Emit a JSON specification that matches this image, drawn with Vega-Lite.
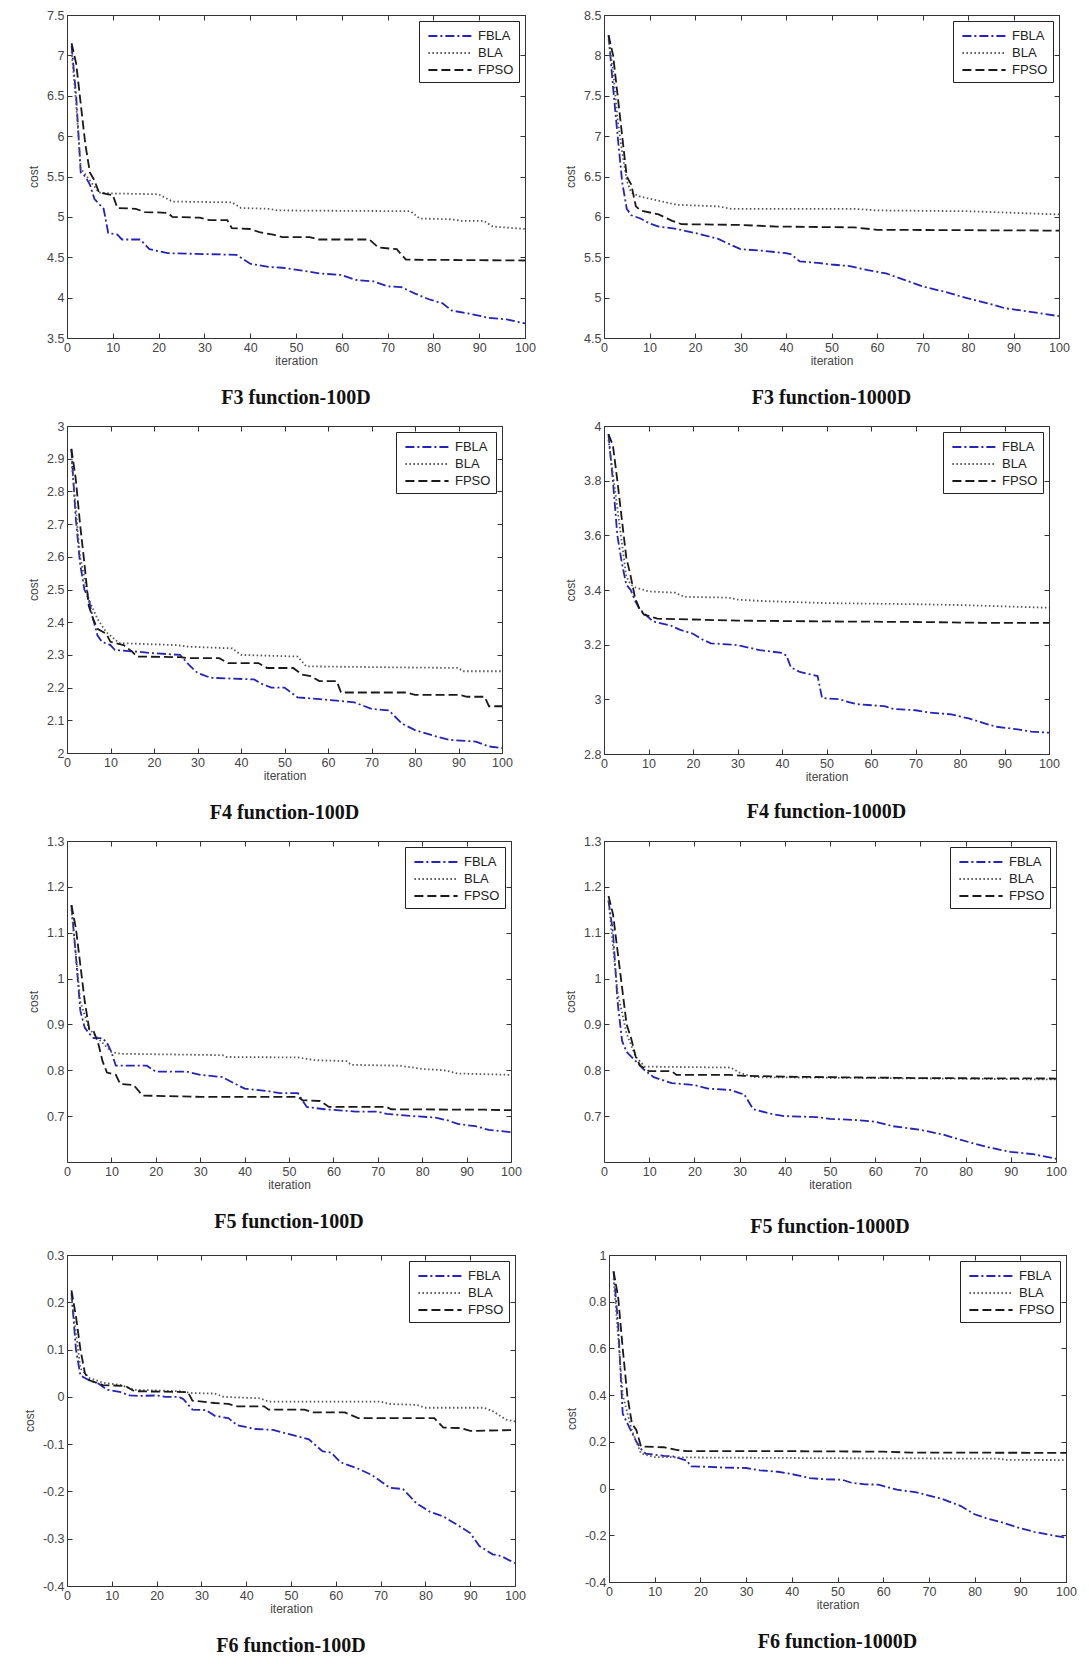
{
"$schema": "https://vega.github.io/schema/vega-lite/v6.json",
"background": "white",
"padding": {"left": 22, "top": 8, "right": 0, "bottom": 5},
"columns": 2,
"align": "none",
"spacing": {"row": 11, "column": 28},
"resolve": {"scale": {"color": "independent", "strokeDash": "independent"}},
"datasets": {
"f3_100": [
{"alg":"FBLA","iter":1,"cost":7.12},{"alg":"FBLA","iter":2,"cost":6.5},{"alg":"FBLA","iter":3,"cost":5.55},{"alg":"FBLA","iter":4,"cost":5.5},{"alg":"FBLA","iter":5,"cost":5.4},{"alg":"FBLA","iter":6,"cost":5.22},{"alg":"FBLA","iter":8,"cost":5.1},{"alg":"FBLA","iter":9,"cost":4.8},{"alg":"FBLA","iter":11,"cost":4.78},{"alg":"FBLA","iter":12,"cost":4.72},{"alg":"FBLA","iter":16,"cost":4.72},{"alg":"FBLA","iter":18,"cost":4.6},{"alg":"FBLA","iter":22,"cost":4.55},{"alg":"FBLA","iter":37,"cost":4.53},{"alg":"FBLA","iter":40,"cost":4.42},{"alg":"FBLA","iter":44,"cost":4.38},{"alg":"FBLA","iter":47,"cost":4.37},{"alg":"FBLA","iter":52,"cost":4.33},{"alg":"FBLA","iter":55,"cost":4.3},{"alg":"FBLA","iter":60,"cost":4.28},{"alg":"FBLA","iter":63,"cost":4.22},{"alg":"FBLA","iter":67,"cost":4.2},{"alg":"FBLA","iter":70,"cost":4.14},{"alg":"FBLA","iter":73,"cost":4.13},{"alg":"FBLA","iter":76,"cost":4.05},{"alg":"FBLA","iter":79,"cost":3.98},{"alg":"FBLA","iter":82,"cost":3.93},{"alg":"FBLA","iter":84,"cost":3.84},{"alg":"FBLA","iter":88,"cost":3.8},{"alg":"FBLA","iter":92,"cost":3.75},{"alg":"FBLA","iter":96,"cost":3.73},{"alg":"FBLA","iter":100,"cost":3.68},
{"alg":"BLA","iter":1,"cost":7.05},{"alg":"BLA","iter":2,"cost":6.4},{"alg":"BLA","iter":3,"cost":5.6},{"alg":"BLA","iter":5,"cost":5.45},{"alg":"BLA","iter":7,"cost":5.3},{"alg":"BLA","iter":10,"cost":5.29},{"alg":"BLA","iter":20,"cost":5.28},{"alg":"BLA","iter":23,"cost":5.19},{"alg":"BLA","iter":36,"cost":5.18},{"alg":"BLA","iter":38,"cost":5.11},{"alg":"BLA","iter":44,"cost":5.1},{"alg":"BLA","iter":46,"cost":5.08},{"alg":"BLA","iter":75,"cost":5.07},{"alg":"BLA","iter":77,"cost":4.98},{"alg":"BLA","iter":84,"cost":4.97},{"alg":"BLA","iter":86,"cost":4.95},{"alg":"BLA","iter":91,"cost":4.95},{"alg":"BLA","iter":93,"cost":4.88},{"alg":"BLA","iter":100,"cost":4.85},
{"alg":"FPSO","iter":1,"cost":7.15},{"alg":"FPSO","iter":2,"cost":6.9},{"alg":"FPSO","iter":3,"cost":6.4},{"alg":"FPSO","iter":4,"cost":5.9},{"alg":"FPSO","iter":5,"cost":5.55},{"alg":"FPSO","iter":6,"cost":5.45},{"alg":"FPSO","iter":7,"cost":5.3},{"alg":"FPSO","iter":10,"cost":5.27},{"alg":"FPSO","iter":11,"cost":5.11},{"alg":"FPSO","iter":15,"cost":5.1},{"alg":"FPSO","iter":17,"cost":5.06},{"alg":"FPSO","iter":22,"cost":5.05},{"alg":"FPSO","iter":23,"cost":5.0},{"alg":"FPSO","iter":29,"cost":4.99},{"alg":"FPSO","iter":31,"cost":4.96},{"alg":"FPSO","iter":35,"cost":4.96},{"alg":"FPSO","iter":36,"cost":4.86},{"alg":"FPSO","iter":40,"cost":4.85},{"alg":"FPSO","iter":42,"cost":4.81},{"alg":"FPSO","iter":45,"cost":4.78},{"alg":"FPSO","iter":47,"cost":4.75},{"alg":"FPSO","iter":53,"cost":4.75},{"alg":"FPSO","iter":55,"cost":4.72},{"alg":"FPSO","iter":66,"cost":4.72},{"alg":"FPSO","iter":68,"cost":4.62},{"alg":"FPSO","iter":72,"cost":4.6},{"alg":"FPSO","iter":74,"cost":4.47},{"alg":"FPSO","iter":100,"cost":4.46}
],
"f3_1000": [
{"alg":"FBLA","iter":1,"cost":8.25},{"alg":"FBLA","iter":2,"cost":7.6},{"alg":"FBLA","iter":3,"cost":7.0},{"alg":"FBLA","iter":4,"cost":6.43},{"alg":"FBLA","iter":5,"cost":6.1},{"alg":"FBLA","iter":6,"cost":6.02},{"alg":"FBLA","iter":8,"cost":5.98},{"alg":"FBLA","iter":10,"cost":5.92},{"alg":"FBLA","iter":12,"cost":5.88},{"alg":"FBLA","iter":16,"cost":5.85},{"alg":"FBLA","iter":20,"cost":5.8},{"alg":"FBLA","iter":25,"cost":5.73},{"alg":"FBLA","iter":28,"cost":5.65},{"alg":"FBLA","iter":30,"cost":5.6},{"alg":"FBLA","iter":35,"cost":5.58},{"alg":"FBLA","iter":40,"cost":5.55},{"alg":"FBLA","iter":41,"cost":5.54},{"alg":"FBLA","iter":43,"cost":5.45},{"alg":"FBLA","iter":47,"cost":5.43},{"alg":"FBLA","iter":50,"cost":5.41},{"alg":"FBLA","iter":54,"cost":5.39},{"alg":"FBLA","iter":58,"cost":5.34},{"alg":"FBLA","iter":62,"cost":5.3},{"alg":"FBLA","iter":66,"cost":5.22},{"alg":"FBLA","iter":70,"cost":5.14},{"alg":"FBLA","iter":75,"cost":5.07},{"alg":"FBLA","iter":80,"cost":4.99},{"alg":"FBLA","iter":85,"cost":4.92},{"alg":"FBLA","iter":88,"cost":4.87},{"alg":"FBLA","iter":93,"cost":4.83},{"alg":"FBLA","iter":100,"cost":4.77},
{"alg":"BLA","iter":1,"cost":8.2},{"alg":"BLA","iter":2,"cost":7.8},{"alg":"BLA","iter":3,"cost":7.2},{"alg":"BLA","iter":4,"cost":6.8},{"alg":"BLA","iter":5,"cost":6.45},{"alg":"BLA","iter":6,"cost":6.3},{"alg":"BLA","iter":8,"cost":6.25},{"alg":"BLA","iter":12,"cost":6.2},{"alg":"BLA","iter":16,"cost":6.15},{"alg":"BLA","iter":25,"cost":6.13},{"alg":"BLA","iter":28,"cost":6.1},{"alg":"BLA","iter":55,"cost":6.1},{"alg":"BLA","iter":60,"cost":6.08},{"alg":"BLA","iter":80,"cost":6.07},{"alg":"BLA","iter":90,"cost":6.05},{"alg":"BLA","iter":100,"cost":6.03},
{"alg":"FPSO","iter":1,"cost":8.25},{"alg":"FPSO","iter":2,"cost":8.0},{"alg":"FPSO","iter":3,"cost":7.5},{"alg":"FPSO","iter":4,"cost":7.0},{"alg":"FPSO","iter":5,"cost":6.5},{"alg":"FPSO","iter":6,"cost":6.4},{"alg":"FPSO","iter":7,"cost":6.13},{"alg":"FPSO","iter":8,"cost":6.08},{"alg":"FPSO","iter":12,"cost":6.03},{"alg":"FPSO","iter":15,"cost":5.95},{"alg":"FPSO","iter":17,"cost":5.91},{"alg":"FPSO","iter":30,"cost":5.9},{"alg":"FPSO","iter":38,"cost":5.88},{"alg":"FPSO","iter":55,"cost":5.87},{"alg":"FPSO","iter":60,"cost":5.84},{"alg":"FPSO","iter":100,"cost":5.83}
],
"f4_100": [
{"alg":"FBLA","iter":1,"cost":2.93},{"alg":"FBLA","iter":2,"cost":2.72},{"alg":"FBLA","iter":3,"cost":2.58},{"alg":"FBLA","iter":4,"cost":2.5},{"alg":"FBLA","iter":5,"cost":2.47},{"alg":"FBLA","iter":6,"cost":2.41},{"alg":"FBLA","iter":7,"cost":2.36},{"alg":"FBLA","iter":8,"cost":2.34},{"alg":"FBLA","iter":10,"cost":2.33},{"alg":"FBLA","iter":11,"cost":2.315},{"alg":"FBLA","iter":16,"cost":2.31},{"alg":"FBLA","iter":20,"cost":2.305},{"alg":"FBLA","iter":26,"cost":2.3},{"alg":"FBLA","iter":28,"cost":2.27},{"alg":"FBLA","iter":30,"cost":2.245},{"alg":"FBLA","iter":33,"cost":2.23},{"alg":"FBLA","iter":43,"cost":2.225},{"alg":"FBLA","iter":45,"cost":2.21},{"alg":"FBLA","iter":47,"cost":2.2},{"alg":"FBLA","iter":50,"cost":2.2},{"alg":"FBLA","iter":53,"cost":2.17},{"alg":"FBLA","iter":58,"cost":2.165},{"alg":"FBLA","iter":62,"cost":2.16},{"alg":"FBLA","iter":66,"cost":2.155},{"alg":"FBLA","iter":70,"cost":2.135},{"alg":"FBLA","iter":74,"cost":2.13},{"alg":"FBLA","iter":77,"cost":2.09},{"alg":"FBLA","iter":80,"cost":2.07},{"alg":"FBLA","iter":85,"cost":2.05},{"alg":"FBLA","iter":88,"cost":2.04},{"alg":"FBLA","iter":94,"cost":2.035},{"alg":"FBLA","iter":97,"cost":2.02},{"alg":"FBLA","iter":100,"cost":2.015},
{"alg":"BLA","iter":1,"cost":2.9},{"alg":"BLA","iter":3,"cost":2.6},{"alg":"BLA","iter":5,"cost":2.47},{"alg":"BLA","iter":7,"cost":2.41},{"alg":"BLA","iter":9,"cost":2.37},{"alg":"BLA","iter":12,"cost":2.336},{"alg":"BLA","iter":25,"cost":2.33},{"alg":"BLA","iter":28,"cost":2.325},{"alg":"BLA","iter":38,"cost":2.32},{"alg":"BLA","iter":40,"cost":2.3},{"alg":"BLA","iter":53,"cost":2.295},{"alg":"BLA","iter":55,"cost":2.265},{"alg":"BLA","iter":75,"cost":2.262},{"alg":"BLA","iter":90,"cost":2.26},{"alg":"BLA","iter":91,"cost":2.25},{"alg":"BLA","iter":100,"cost":2.25},
{"alg":"FPSO","iter":1,"cost":2.93},{"alg":"FPSO","iter":2,"cost":2.84},{"alg":"FPSO","iter":3,"cost":2.7},{"alg":"FPSO","iter":4,"cost":2.58},{"alg":"FPSO","iter":5,"cost":2.45},{"alg":"FPSO","iter":6,"cost":2.41},{"alg":"FPSO","iter":7,"cost":2.38},{"alg":"FPSO","iter":9,"cost":2.365},{"alg":"FPSO","iter":10,"cost":2.34},{"alg":"FPSO","iter":13,"cost":2.33},{"alg":"FPSO","iter":15,"cost":2.31},{"alg":"FPSO","iter":16,"cost":2.295},{"alg":"FPSO","iter":26,"cost":2.293},{"alg":"FPSO","iter":28,"cost":2.29},{"alg":"FPSO","iter":35,"cost":2.29},{"alg":"FPSO","iter":37,"cost":2.275},{"alg":"FPSO","iter":44,"cost":2.275},{"alg":"FPSO","iter":46,"cost":2.26},{"alg":"FPSO","iter":52,"cost":2.26},{"alg":"FPSO","iter":54,"cost":2.24},{"alg":"FPSO","iter":56,"cost":2.235},{"alg":"FPSO","iter":58,"cost":2.22},{"alg":"FPSO","iter":62,"cost":2.22},{"alg":"FPSO","iter":63,"cost":2.185},{"alg":"FPSO","iter":78,"cost":2.185},{"alg":"FPSO","iter":80,"cost":2.178},{"alg":"FPSO","iter":90,"cost":2.178},{"alg":"FPSO","iter":92,"cost":2.172},{"alg":"FPSO","iter":96,"cost":2.172},{"alg":"FPSO","iter":97,"cost":2.143},{"alg":"FPSO","iter":100,"cost":2.143}
],
"f4_1000": [
{"alg":"FBLA","iter":1,"cost":3.97},{"alg":"FBLA","iter":2,"cost":3.8},{"alg":"FBLA","iter":3,"cost":3.6},{"alg":"FBLA","iter":4,"cost":3.5},{"alg":"FBLA","iter":5,"cost":3.42},{"alg":"FBLA","iter":6,"cost":3.4},{"alg":"FBLA","iter":7,"cost":3.36},{"alg":"FBLA","iter":8,"cost":3.33},{"alg":"FBLA","iter":10,"cost":3.3},{"alg":"FBLA","iter":11,"cost":3.285},{"alg":"FBLA","iter":15,"cost":3.27},{"alg":"FBLA","iter":17,"cost":3.255},{"alg":"FBLA","iter":20,"cost":3.24},{"alg":"FBLA","iter":22,"cost":3.22},{"alg":"FBLA","iter":24,"cost":3.205},{"alg":"FBLA","iter":29,"cost":3.2},{"alg":"FBLA","iter":31,"cost":3.195},{"alg":"FBLA","iter":35,"cost":3.18},{"alg":"FBLA","iter":40,"cost":3.17},{"alg":"FBLA","iter":41,"cost":3.16},{"alg":"FBLA","iter":42,"cost":3.117},{"alg":"FBLA","iter":44,"cost":3.1},{"alg":"FBLA","iter":48,"cost":3.085},{"alg":"FBLA","iter":49,"cost":3.005},{"alg":"FBLA","iter":53,"cost":3.0},{"alg":"FBLA","iter":55,"cost":2.99},{"alg":"FBLA","iter":57,"cost":2.982},{"alg":"FBLA","iter":63,"cost":2.975},{"alg":"FBLA","iter":65,"cost":2.965},{"alg":"FBLA","iter":70,"cost":2.96},{"alg":"FBLA","iter":73,"cost":2.952},{"alg":"FBLA","iter":78,"cost":2.945},{"alg":"FBLA","iter":82,"cost":2.93},{"alg":"FBLA","iter":85,"cost":2.915},{"alg":"FBLA","iter":88,"cost":2.9},{"alg":"FBLA","iter":93,"cost":2.89},{"alg":"FBLA","iter":96,"cost":2.882},{"alg":"FBLA","iter":100,"cost":2.878},
{"alg":"BLA","iter":1,"cost":3.95},{"alg":"BLA","iter":3,"cost":3.7},{"alg":"BLA","iter":5,"cost":3.45},{"alg":"BLA","iter":6,"cost":3.42},{"alg":"BLA","iter":7,"cost":3.41},{"alg":"BLA","iter":10,"cost":3.395},{"alg":"BLA","iter":16,"cost":3.39},{"alg":"BLA","iter":18,"cost":3.375},{"alg":"BLA","iter":28,"cost":3.372},{"alg":"BLA","iter":30,"cost":3.365},{"alg":"BLA","iter":35,"cost":3.36},{"alg":"BLA","iter":50,"cost":3.352},{"alg":"BLA","iter":70,"cost":3.348},{"alg":"BLA","iter":80,"cost":3.345},{"alg":"BLA","iter":90,"cost":3.34},{"alg":"BLA","iter":100,"cost":3.335},
{"alg":"FPSO","iter":1,"cost":3.97},{"alg":"FPSO","iter":2,"cost":3.93},{"alg":"FPSO","iter":3,"cost":3.8},{"alg":"FPSO","iter":4,"cost":3.66},{"alg":"FPSO","iter":5,"cost":3.52},{"alg":"FPSO","iter":6,"cost":3.45},{"alg":"FPSO","iter":7,"cost":3.37},{"alg":"FPSO","iter":8,"cost":3.33},{"alg":"FPSO","iter":9,"cost":3.31},{"alg":"FPSO","iter":12,"cost":3.295},{"alg":"FPSO","iter":20,"cost":3.292},{"alg":"FPSO","iter":30,"cost":3.288},{"alg":"FPSO","iter":50,"cost":3.285},{"alg":"FPSO","iter":70,"cost":3.283},{"alg":"FPSO","iter":85,"cost":3.28},{"alg":"FPSO","iter":100,"cost":3.28}
],
"f5_100": [
{"alg":"FBLA","iter":1,"cost":1.16},{"alg":"FBLA","iter":2,"cost":1.05},{"alg":"FBLA","iter":3,"cost":0.93},{"alg":"FBLA","iter":4,"cost":0.893},{"alg":"FBLA","iter":5,"cost":0.88},{"alg":"FBLA","iter":6,"cost":0.87},{"alg":"FBLA","iter":8,"cost":0.87},{"alg":"FBLA","iter":9,"cost":0.86},{"alg":"FBLA","iter":10,"cost":0.84},{"alg":"FBLA","iter":11,"cost":0.81},{"alg":"FBLA","iter":18,"cost":0.81},{"alg":"FBLA","iter":20,"cost":0.797},{"alg":"FBLA","iter":27,"cost":0.797},{"alg":"FBLA","iter":30,"cost":0.79},{"alg":"FBLA","iter":35,"cost":0.785},{"alg":"FBLA","iter":38,"cost":0.77},{"alg":"FBLA","iter":40,"cost":0.76},{"alg":"FBLA","iter":45,"cost":0.755},{"alg":"FBLA","iter":48,"cost":0.75},{"alg":"FBLA","iter":52,"cost":0.75},{"alg":"FBLA","iter":54,"cost":0.72},{"alg":"FBLA","iter":58,"cost":0.715},{"alg":"FBLA","iter":65,"cost":0.71},{"alg":"FBLA","iter":70,"cost":0.71},{"alg":"FBLA","iter":72,"cost":0.705},{"alg":"FBLA","iter":78,"cost":0.7},{"alg":"FBLA","iter":83,"cost":0.697},{"alg":"FBLA","iter":86,"cost":0.69},{"alg":"FBLA","iter":88,"cost":0.683},{"alg":"FBLA","iter":92,"cost":0.678},{"alg":"FBLA","iter":95,"cost":0.67},{"alg":"FBLA","iter":100,"cost":0.665},
{"alg":"BLA","iter":1,"cost":1.15},{"alg":"BLA","iter":3,"cost":0.95},{"alg":"BLA","iter":5,"cost":0.89},{"alg":"BLA","iter":7,"cost":0.87},{"alg":"BLA","iter":9,"cost":0.85},{"alg":"BLA","iter":10,"cost":0.84},{"alg":"BLA","iter":12,"cost":0.836},{"alg":"BLA","iter":35,"cost":0.833},{"alg":"BLA","iter":36,"cost":0.829},{"alg":"BLA","iter":52,"cost":0.828},{"alg":"BLA","iter":54,"cost":0.825},{"alg":"BLA","iter":56,"cost":0.822},{"alg":"BLA","iter":63,"cost":0.82},{"alg":"BLA","iter":64,"cost":0.812},{"alg":"BLA","iter":75,"cost":0.81},{"alg":"BLA","iter":80,"cost":0.803},{"alg":"BLA","iter":85,"cost":0.8},{"alg":"BLA","iter":88,"cost":0.793},{"alg":"BLA","iter":100,"cost":0.79},
{"alg":"FPSO","iter":1,"cost":1.16},{"alg":"FPSO","iter":2,"cost":1.11},{"alg":"FPSO","iter":3,"cost":1.03},{"alg":"FPSO","iter":4,"cost":0.95},{"alg":"FPSO","iter":5,"cost":0.89},{"alg":"FPSO","iter":6,"cost":0.885},{"alg":"FPSO","iter":7,"cost":0.86},{"alg":"FPSO","iter":8,"cost":0.82},{"alg":"FPSO","iter":9,"cost":0.795},{"alg":"FPSO","iter":11,"cost":0.79},{"alg":"FPSO","iter":12,"cost":0.77},{"alg":"FPSO","iter":15,"cost":0.768},{"alg":"FPSO","iter":17,"cost":0.745},{"alg":"FPSO","iter":26,"cost":0.743},{"alg":"FPSO","iter":30,"cost":0.742},{"alg":"FPSO","iter":52,"cost":0.742},{"alg":"FPSO","iter":53,"cost":0.735},{"alg":"FPSO","iter":57,"cost":0.733},{"alg":"FPSO","iter":59,"cost":0.72},{"alg":"FPSO","iter":72,"cost":0.72},{"alg":"FPSO","iter":73,"cost":0.715},{"alg":"FPSO","iter":94,"cost":0.714},{"alg":"FPSO","iter":100,"cost":0.713}
],
"f5_1000": [
{"alg":"FBLA","iter":1,"cost":1.17},{"alg":"FBLA","iter":2,"cost":1.1},{"alg":"FBLA","iter":3,"cost":0.95},{"alg":"FBLA","iter":4,"cost":0.864},{"alg":"FBLA","iter":5,"cost":0.84},{"alg":"FBLA","iter":7,"cost":0.82},{"alg":"FBLA","iter":9,"cost":0.8},{"alg":"FBLA","iter":11,"cost":0.785},{"alg":"FBLA","iter":15,"cost":0.772},{"alg":"FBLA","iter":20,"cost":0.768},{"alg":"FBLA","iter":23,"cost":0.76},{"alg":"FBLA","iter":28,"cost":0.757},{"alg":"FBLA","iter":30,"cost":0.75},{"alg":"FBLA","iter":31,"cost":0.748},{"alg":"FBLA","iter":33,"cost":0.715},{"alg":"FBLA","iter":37,"cost":0.705},{"alg":"FBLA","iter":40,"cost":0.7},{"alg":"FBLA","iter":47,"cost":0.698},{"alg":"FBLA","iter":50,"cost":0.694},{"alg":"FBLA","iter":55,"cost":0.692},{"alg":"FBLA","iter":60,"cost":0.688},{"alg":"FBLA","iter":64,"cost":0.678},{"alg":"FBLA","iter":70,"cost":0.67},{"alg":"FBLA","iter":75,"cost":0.66},{"alg":"FBLA","iter":79,"cost":0.648},{"alg":"FBLA","iter":82,"cost":0.64},{"alg":"FBLA","iter":86,"cost":0.63},{"alg":"FBLA","iter":90,"cost":0.622},{"alg":"FBLA","iter":95,"cost":0.617},{"alg":"FBLA","iter":100,"cost":0.607},
{"alg":"BLA","iter":1,"cost":1.17},{"alg":"BLA","iter":3,"cost":0.97},{"alg":"BLA","iter":5,"cost":0.88},{"alg":"BLA","iter":7,"cost":0.83},{"alg":"BLA","iter":9,"cost":0.808},{"alg":"BLA","iter":28,"cost":0.806},{"alg":"BLA","iter":30,"cost":0.795},{"alg":"BLA","iter":33,"cost":0.785},{"alg":"BLA","iter":100,"cost":0.78},
{"alg":"FPSO","iter":1,"cost":1.18},{"alg":"FPSO","iter":2,"cost":1.14},{"alg":"FPSO","iter":3,"cost":1.06},{"alg":"FPSO","iter":4,"cost":0.98},{"alg":"FPSO","iter":5,"cost":0.9},{"alg":"FPSO","iter":6,"cost":0.87},{"alg":"FPSO","iter":7,"cost":0.83},{"alg":"FPSO","iter":8,"cost":0.81},{"alg":"FPSO","iter":10,"cost":0.798},{"alg":"FPSO","iter":15,"cost":0.798},{"alg":"FPSO","iter":16,"cost":0.79},{"alg":"FPSO","iter":28,"cost":0.79},{"alg":"FPSO","iter":31,"cost":0.788},{"alg":"FPSO","iter":40,"cost":0.786},{"alg":"FPSO","iter":60,"cost":0.784},{"alg":"FPSO","iter":70,"cost":0.783},{"alg":"FPSO","iter":100,"cost":0.782}
],
"f6_100": [
{"alg":"FBLA","iter":1,"cost":0.22},{"alg":"FBLA","iter":2,"cost":0.1},{"alg":"FBLA","iter":3,"cost":0.045},{"alg":"FBLA","iter":4,"cost":0.04},{"alg":"FBLA","iter":5,"cost":0.035},{"alg":"FBLA","iter":7,"cost":0.028},{"alg":"FBLA","iter":9,"cost":0.015},{"alg":"FBLA","iter":12,"cost":0.01},{"alg":"FBLA","iter":14,"cost":0.003},{"alg":"FBLA","iter":16,"cost":0.002},{"alg":"FBLA","iter":20,"cost":0.003},{"alg":"FBLA","iter":22,"cost":0.0},{"alg":"FBLA","iter":25,"cost":0.0},{"alg":"FBLA","iter":26,"cost":-0.005},{"alg":"FBLA","iter":28,"cost":-0.027},{"alg":"FBLA","iter":31,"cost":-0.028},{"alg":"FBLA","iter":33,"cost":-0.04},{"alg":"FBLA","iter":36,"cost":-0.045},{"alg":"FBLA","iter":38,"cost":-0.06},{"alg":"FBLA","iter":42,"cost":-0.068},{"alg":"FBLA","iter":46,"cost":-0.07},{"alg":"FBLA","iter":50,"cost":-0.08},{"alg":"FBLA","iter":54,"cost":-0.09},{"alg":"FBLA","iter":57,"cost":-0.115},{"alg":"FBLA","iter":59,"cost":-0.118},{"alg":"FBLA","iter":61,"cost":-0.138},{"alg":"FBLA","iter":65,"cost":-0.152},{"alg":"FBLA","iter":68,"cost":-0.165},{"alg":"FBLA","iter":72,"cost":-0.192},{"alg":"FBLA","iter":75,"cost":-0.195},{"alg":"FBLA","iter":78,"cost":-0.225},{"alg":"FBLA","iter":81,"cost":-0.243},{"alg":"FBLA","iter":84,"cost":-0.253},{"alg":"FBLA","iter":87,"cost":-0.27},{"alg":"FBLA","iter":90,"cost":-0.288},{"alg":"FBLA","iter":92,"cost":-0.315},{"alg":"FBLA","iter":95,"cost":-0.333},{"alg":"FBLA","iter":97,"cost":-0.337},{"alg":"FBLA","iter":100,"cost":-0.352},
{"alg":"BLA","iter":1,"cost":0.21},{"alg":"BLA","iter":3,"cost":0.06},{"alg":"BLA","iter":5,"cost":0.04},{"alg":"BLA","iter":8,"cost":0.03},{"alg":"BLA","iter":12,"cost":0.025},{"alg":"BLA","iter":15,"cost":0.015},{"alg":"BLA","iter":25,"cost":0.012},{"alg":"BLA","iter":28,"cost":0.008},{"alg":"BLA","iter":33,"cost":0.007},{"alg":"BLA","iter":35,"cost":0.0},{"alg":"BLA","iter":43,"cost":-0.003},{"alg":"BLA","iter":45,"cost":-0.01},{"alg":"BLA","iter":70,"cost":-0.01},{"alg":"BLA","iter":72,"cost":-0.015},{"alg":"BLA","iter":78,"cost":-0.017},{"alg":"BLA","iter":80,"cost":-0.023},{"alg":"BLA","iter":93,"cost":-0.023},{"alg":"BLA","iter":95,"cost":-0.03},{"alg":"BLA","iter":98,"cost":-0.048},{"alg":"BLA","iter":100,"cost":-0.052},
{"alg":"FPSO","iter":1,"cost":0.225},{"alg":"FPSO","iter":2,"cost":0.17},{"alg":"FPSO","iter":3,"cost":0.1},{"alg":"FPSO","iter":4,"cost":0.05},{"alg":"FPSO","iter":5,"cost":0.035},{"alg":"FPSO","iter":8,"cost":0.025},{"alg":"FPSO","iter":13,"cost":0.023},{"alg":"FPSO","iter":15,"cost":0.012},{"alg":"FPSO","iter":27,"cost":0.01},{"alg":"FPSO","iter":28,"cost":-0.008},{"alg":"FPSO","iter":33,"cost":-0.013},{"alg":"FPSO","iter":36,"cost":-0.015},{"alg":"FPSO","iter":38,"cost":-0.02},{"alg":"FPSO","iter":44,"cost":-0.02},{"alg":"FPSO","iter":45,"cost":-0.027},{"alg":"FPSO","iter":53,"cost":-0.027},{"alg":"FPSO","iter":55,"cost":-0.033},{"alg":"FPSO","iter":62,"cost":-0.033},{"alg":"FPSO","iter":65,"cost":-0.045},{"alg":"FPSO","iter":82,"cost":-0.045},{"alg":"FPSO","iter":84,"cost":-0.065},{"alg":"FPSO","iter":88,"cost":-0.066},{"alg":"FPSO","iter":90,"cost":-0.072},{"alg":"FPSO","iter":100,"cost":-0.07}
],
"f6_1000": [
{"alg":"FBLA","iter":1,"cost":0.93},{"alg":"FBLA","iter":2,"cost":0.7},{"alg":"FBLA","iter":3,"cost":0.32},{"alg":"FBLA","iter":4,"cost":0.28},{"alg":"FBLA","iter":5,"cost":0.24},{"alg":"FBLA","iter":6,"cost":0.2},{"alg":"FBLA","iter":7,"cost":0.17},{"alg":"FBLA","iter":8,"cost":0.15},{"alg":"FBLA","iter":10,"cost":0.145},{"alg":"FBLA","iter":12,"cost":0.14},{"alg":"FBLA","iter":14,"cost":0.138},{"alg":"FBLA","iter":17,"cost":0.12},{"alg":"FBLA","iter":18,"cost":0.095},{"alg":"FBLA","iter":22,"cost":0.093},{"alg":"FBLA","iter":25,"cost":0.09},{"alg":"FBLA","iter":30,"cost":0.088},{"alg":"FBLA","iter":33,"cost":0.078},{"alg":"FBLA","iter":37,"cost":0.072},{"alg":"FBLA","iter":40,"cost":0.062},{"alg":"FBLA","iter":44,"cost":0.045},{"alg":"FBLA","iter":47,"cost":0.04},{"alg":"FBLA","iter":51,"cost":0.038},{"alg":"FBLA","iter":53,"cost":0.025},{"alg":"FBLA","iter":56,"cost":0.018},{"alg":"FBLA","iter":59,"cost":0.017},{"alg":"FBLA","iter":61,"cost":0.005},{"alg":"FBLA","iter":63,"cost":-0.005},{"alg":"FBLA","iter":67,"cost":-0.015},{"alg":"FBLA","iter":70,"cost":-0.03},{"alg":"FBLA","iter":73,"cost":-0.045},{"alg":"FBLA","iter":77,"cost":-0.075},{"alg":"FBLA","iter":80,"cost":-0.11},{"alg":"FBLA","iter":83,"cost":-0.13},{"alg":"FBLA","iter":86,"cost":-0.145},{"alg":"FBLA","iter":90,"cost":-0.17},{"alg":"FBLA","iter":93,"cost":-0.185},{"alg":"FBLA","iter":97,"cost":-0.2},{"alg":"FBLA","iter":100,"cost":-0.21},
{"alg":"BLA","iter":1,"cost":0.9},{"alg":"BLA","iter":3,"cost":0.4},{"alg":"BLA","iter":5,"cost":0.25},{"alg":"BLA","iter":7,"cost":0.15},{"alg":"BLA","iter":10,"cost":0.135},{"alg":"BLA","iter":20,"cost":0.133},{"alg":"BLA","iter":50,"cost":0.13},{"alg":"BLA","iter":85,"cost":0.128},{"alg":"BLA","iter":87,"cost":0.123},{"alg":"BLA","iter":100,"cost":0.122},
{"alg":"FPSO","iter":1,"cost":0.93},{"alg":"FPSO","iter":2,"cost":0.82},{"alg":"FPSO","iter":3,"cost":0.6},{"alg":"FPSO","iter":4,"cost":0.4},{"alg":"FPSO","iter":5,"cost":0.28},{"alg":"FPSO","iter":6,"cost":0.25},{"alg":"FPSO","iter":7,"cost":0.18},{"alg":"FPSO","iter":12,"cost":0.177},{"alg":"FPSO","iter":15,"cost":0.165},{"alg":"FPSO","iter":17,"cost":0.16},{"alg":"FPSO","iter":40,"cost":0.16},{"alg":"FPSO","iter":60,"cost":0.158},{"alg":"FPSO","iter":66,"cost":0.154},{"alg":"FPSO","iter":100,"cost":0.153}
]
},
"concat": [
{"width": 458, "height": 323, "data": {"name": "f3_100"}, "title": {"text": "F3 function-100D", "offset": 21},
 "resolve": {"axis": {"x": "independent", "y": "independent"}},
 "layer": [
  {"mark": {"type": "line", "clip": true},
   "encoding": {
    "x": {"field": "iter", "type": "quantitative", "scale": {"domain": [0, 100], "nice": false}, "axis": {"values": [0,10,20,30,40,50,60,70,80,90,100], "title": "iteration"}},
    "y": {"field": "cost", "type": "quantitative", "scale": {"domain": [3.5, 7.5], "nice": false, "zero": false}, "axis": {"values": [3.5,4,4.5,5,5.5,6,6.5,7,7.5], "title": "cost", "labelExpr": "datum.value + ''"}},
    "color": {"field": "alg", "type": "nominal", "scale": {"domain": ["FBLA","BLA","FPSO"], "range": ["#2424b8","#555555","#1a1a1a"]}, "legend": {"title": null}},
    "strokeDash": {"field": "alg", "type": "nominal", "scale": {"domain": ["FBLA","BLA","FPSO"], "range": [[9,3,2,3],[1.5,2.5],[9,4]]}, "legend": {"title": null}}}},
  {"mark": {"type": "point", "opacity": 0},
   "encoding": {
    "x": {"field": "iter", "type": "quantitative", "scale": {"domain": [0, 100], "nice": false}, "axis": {"orient": "top", "labels": false, "title": null, "values": [0,10,20,30,40,50,60,70,80,90,100]}},
    "y": {"field": "cost", "type": "quantitative", "scale": {"domain": [3.5, 7.5], "nice": false, "zero": false}, "axis": {"orient": "right", "labels": false, "title": null, "values": [3.5,4,4.5,5,5.5,6,6.5,7,7.5]}}}}
 ]},
{"width": 455, "height": 323, "data": {"name": "f3_1000"}, "title": {"text": "F3 function-1000D", "offset": 21},
 "resolve": {"axis": {"x": "independent", "y": "independent"}},
 "layer": [
  {"mark": {"type": "line", "clip": true},
   "encoding": {
    "x": {"field": "iter", "type": "quantitative", "scale": {"domain": [0, 100], "nice": false}, "axis": {"values": [0,10,20,30,40,50,60,70,80,90,100], "title": "iteration"}},
    "y": {"field": "cost", "type": "quantitative", "scale": {"domain": [4.5, 8.5], "nice": false, "zero": false}, "axis": {"values": [4.5,5,5.5,6,6.5,7,7.5,8,8.5], "title": "cost", "labelExpr": "datum.value + ''"}},
    "color": {"field": "alg", "type": "nominal", "scale": {"domain": ["FBLA","BLA","FPSO"], "range": ["#2424b8","#555555","#1a1a1a"]}, "legend": {"title": null}},
    "strokeDash": {"field": "alg", "type": "nominal", "scale": {"domain": ["FBLA","BLA","FPSO"], "range": [[9,3,2,3],[1.5,2.5],[9,4]]}, "legend": {"title": null}}}},
  {"mark": {"type": "point", "opacity": 0},
   "encoding": {
    "x": {"field": "iter", "type": "quantitative", "scale": {"domain": [0, 100], "nice": false}, "axis": {"orient": "top", "labels": false, "title": null, "values": [0,10,20,30,40,50,60,70,80,90,100]}},
    "y": {"field": "cost", "type": "quantitative", "scale": {"domain": [4.5, 8.5], "nice": false, "zero": false}, "axis": {"orient": "right", "labels": false, "title": null, "values": [4.5,5,5.5,6,6.5,7,7.5,8,8.5]}}}}
 ]},
{"width": 435, "height": 327, "data": {"name": "f4_100"}, "title": {"text": "F4 function-100D", "offset": 21},
 "resolve": {"axis": {"x": "independent", "y": "independent"}},
 "layer": [
  {"mark": {"type": "line", "clip": true},
   "encoding": {
    "x": {"field": "iter", "type": "quantitative", "scale": {"domain": [0, 100], "nice": false}, "axis": {"values": [0,10,20,30,40,50,60,70,80,90,100], "title": "iteration"}},
    "y": {"field": "cost", "type": "quantitative", "scale": {"domain": [2, 3], "nice": false, "zero": false}, "axis": {"values": [2,2.1,2.2,2.3,2.4,2.5,2.6,2.7,2.8,2.9,3], "title": "cost", "labelExpr": "datum.value + ''"}},
    "color": {"field": "alg", "type": "nominal", "scale": {"domain": ["FBLA","BLA","FPSO"], "range": ["#2424b8","#555555","#1a1a1a"]}, "legend": {"title": null}},
    "strokeDash": {"field": "alg", "type": "nominal", "scale": {"domain": ["FBLA","BLA","FPSO"], "range": [[9,3,2,3],[1.5,2.5],[9,4]]}, "legend": {"title": null}}}},
  {"mark": {"type": "point", "opacity": 0},
   "encoding": {
    "x": {"field": "iter", "type": "quantitative", "scale": {"domain": [0, 100], "nice": false}, "axis": {"orient": "top", "labels": false, "title": null, "values": [0,10,20,30,40,50,60,70,80,90,100]}},
    "y": {"field": "cost", "type": "quantitative", "scale": {"domain": [2, 3], "nice": false, "zero": false}, "axis": {"orient": "right", "labels": false, "title": null, "values": [2,2.1,2.2,2.3,2.4,2.5,2.6,2.7,2.8,2.9,3]}}}}
 ]},
{"width": 445, "height": 328, "data": {"name": "f4_1000"}, "title": {"text": "F4 function-1000D", "offset": 19},
 "resolve": {"axis": {"x": "independent", "y": "independent"}},
 "layer": [
  {"mark": {"type": "line", "clip": true},
   "encoding": {
    "x": {"field": "iter", "type": "quantitative", "scale": {"domain": [0, 100], "nice": false}, "axis": {"values": [0,10,20,30,40,50,60,70,80,90,100], "title": "iteration"}},
    "y": {"field": "cost", "type": "quantitative", "scale": {"domain": [2.8, 4], "nice": false, "zero": false}, "axis": {"values": [2.8,3,3.2,3.4,3.6,3.8,4], "title": "cost", "labelExpr": "datum.value + ''"}},
    "color": {"field": "alg", "type": "nominal", "scale": {"domain": ["FBLA","BLA","FPSO"], "range": ["#2424b8","#555555","#1a1a1a"]}, "legend": {"title": null}},
    "strokeDash": {"field": "alg", "type": "nominal", "scale": {"domain": ["FBLA","BLA","FPSO"], "range": [[9,3,2,3],[1.5,2.5],[9,4]]}, "legend": {"title": null}}}},
  {"mark": {"type": "point", "opacity": 0},
   "encoding": {
    "x": {"field": "iter", "type": "quantitative", "scale": {"domain": [0, 100], "nice": false}, "axis": {"orient": "top", "labels": false, "title": null, "values": [0,10,20,30,40,50,60,70,80,90,100]}},
    "y": {"field": "cost", "type": "quantitative", "scale": {"domain": [2.8, 4], "nice": false, "zero": false}, "axis": {"orient": "right", "labels": false, "title": null, "values": [2.8,3,3.2,3.4,3.6,3.8,4]}}}}
 ]},
{"width": 444, "height": 321, "data": {"name": "f5_100"}, "title": {"text": "F5 function-100D", "offset": 21},
 "resolve": {"axis": {"x": "independent", "y": "independent"}},
 "layer": [
  {"mark": {"type": "line", "clip": true},
   "encoding": {
    "x": {"field": "iter", "type": "quantitative", "scale": {"domain": [0, 100], "nice": false}, "axis": {"values": [0,10,20,30,40,50,60,70,80,90,100], "title": "iteration"}},
    "y": {"field": "cost", "type": "quantitative", "scale": {"domain": [0.6, 1.3], "nice": false, "zero": false}, "axis": {"values": [0.7,0.8,0.9,1,1.1,1.2,1.3], "title": "cost", "labelExpr": "datum.value + ''"}},
    "color": {"field": "alg", "type": "nominal", "scale": {"domain": ["FBLA","BLA","FPSO"], "range": ["#2424b8","#555555","#1a1a1a"]}, "legend": {"title": null}},
    "strokeDash": {"field": "alg", "type": "nominal", "scale": {"domain": ["FBLA","BLA","FPSO"], "range": [[9,3,2,3],[1.5,2.5],[9,4]]}, "legend": {"title": null}}}},
  {"mark": {"type": "point", "opacity": 0},
   "encoding": {
    "x": {"field": "iter", "type": "quantitative", "scale": {"domain": [0, 100], "nice": false}, "axis": {"orient": "top", "labels": false, "title": null, "values": [0,10,20,30,40,50,60,70,80,90,100]}},
    "y": {"field": "cost", "type": "quantitative", "scale": {"domain": [0.6, 1.3], "nice": false, "zero": false}, "axis": {"orient": "right", "labels": false, "title": null, "values": [0.7,0.8,0.9,1,1.1,1.2,1.3]}}}}
 ]},
{"width": 452, "height": 321, "data": {"name": "f5_1000"}, "title": {"text": "F5 function-1000D", "offset": 26},
 "resolve": {"axis": {"x": "independent", "y": "independent"}},
 "layer": [
  {"mark": {"type": "line", "clip": true},
   "encoding": {
    "x": {"field": "iter", "type": "quantitative", "scale": {"domain": [0, 100], "nice": false}, "axis": {"values": [0,10,20,30,40,50,60,70,80,90,100], "title": "iteration"}},
    "y": {"field": "cost", "type": "quantitative", "scale": {"domain": [0.6, 1.3], "nice": false, "zero": false}, "axis": {"values": [0.7,0.8,0.9,1,1.1,1.2,1.3], "title": "cost", "labelExpr": "datum.value + ''"}},
    "color": {"field": "alg", "type": "nominal", "scale": {"domain": ["FBLA","BLA","FPSO"], "range": ["#2424b8","#555555","#1a1a1a"]}, "legend": {"title": null}},
    "strokeDash": {"field": "alg", "type": "nominal", "scale": {"domain": ["FBLA","BLA","FPSO"], "range": [[9,3,2,3],[1.5,2.5],[9,4]]}, "legend": {"title": null}}}},
  {"mark": {"type": "point", "opacity": 0},
   "encoding": {
    "x": {"field": "iter", "type": "quantitative", "scale": {"domain": [0, 100], "nice": false}, "axis": {"orient": "top", "labels": false, "title": null, "values": [0,10,20,30,40,50,60,70,80,90,100]}},
    "y": {"field": "cost", "type": "quantitative", "scale": {"domain": [0.6, 1.3], "nice": false, "zero": false}, "axis": {"orient": "right", "labels": false, "title": null, "values": [0.7,0.8,0.9,1,1.1,1.2,1.3]}}}}
 ]},
{"width": 448, "height": 331, "data": {"name": "f6_100"}, "title": {"text": "F6 function-100D", "offset": 21},
 "resolve": {"axis": {"x": "independent", "y": "independent"}},
 "layer": [
  {"mark": {"type": "line", "clip": true},
   "encoding": {
    "x": {"field": "iter", "type": "quantitative", "scale": {"domain": [0, 100], "nice": false}, "axis": {"values": [0,10,20,30,40,50,60,70,80,90,100], "title": "iteration"}},
    "y": {"field": "cost", "type": "quantitative", "scale": {"domain": [-0.4, 0.3], "nice": false, "zero": false}, "axis": {"values": [-0.4,-0.3,-0.2,-0.1,0,0.1,0.2,0.3], "title": "cost", "labelExpr": "datum.value + ''"}},
    "color": {"field": "alg", "type": "nominal", "scale": {"domain": ["FBLA","BLA","FPSO"], "range": ["#2424b8","#555555","#1a1a1a"]}, "legend": {"title": null}},
    "strokeDash": {"field": "alg", "type": "nominal", "scale": {"domain": ["FBLA","BLA","FPSO"], "range": [[9,3,2,3],[1.5,2.5],[9,4]]}, "legend": {"title": null}}}},
  {"mark": {"type": "point", "opacity": 0},
   "encoding": {
    "x": {"field": "iter", "type": "quantitative", "scale": {"domain": [0, 100], "nice": false}, "axis": {"orient": "top", "labels": false, "title": null, "values": [0,10,20,30,40,50,60,70,80,90,100]}},
    "y": {"field": "cost", "type": "quantitative", "scale": {"domain": [-0.4, 0.3], "nice": false, "zero": false}, "axis": {"orient": "right", "labels": false, "title": null, "values": [-0.4,-0.3,-0.2,-0.1,0,0.1,0.2,0.3]}}}}
 ]},
{"width": 457, "height": 327, "data": {"name": "f6_1000"}, "title": {"text": "F6 function-1000D", "offset": 21},
 "resolve": {"axis": {"x": "independent", "y": "independent"}},
 "layer": [
  {"mark": {"type": "line", "clip": true},
   "encoding": {
    "x": {"field": "iter", "type": "quantitative", "scale": {"domain": [0, 100], "nice": false}, "axis": {"values": [0,10,20,30,40,50,60,70,80,90,100], "title": "iteration"}},
    "y": {"field": "cost", "type": "quantitative", "scale": {"domain": [-0.4, 1], "nice": false, "zero": false}, "axis": {"values": [-0.4,-0.2,0,0.2,0.4,0.6,0.8,1], "title": "cost", "labelExpr": "datum.value + ''"}},
    "color": {"field": "alg", "type": "nominal", "scale": {"domain": ["FBLA","BLA","FPSO"], "range": ["#2424b8","#555555","#1a1a1a"]}, "legend": {"title": null}},
    "strokeDash": {"field": "alg", "type": "nominal", "scale": {"domain": ["FBLA","BLA","FPSO"], "range": [[9,3,2,3],[1.5,2.5],[9,4]]}, "legend": {"title": null}}}},
  {"mark": {"type": "point", "opacity": 0},
   "encoding": {
    "x": {"field": "iter", "type": "quantitative", "scale": {"domain": [0, 100], "nice": false}, "axis": {"orient": "top", "labels": false, "title": null, "values": [0,10,20,30,40,50,60,70,80,90,100]}},
    "y": {"field": "cost", "type": "quantitative", "scale": {"domain": [-0.4, 1], "nice": false, "zero": false}, "axis": {"orient": "right", "labels": false, "title": null, "values": [-0.4,-0.2,0,0.2,0.4,0.6,0.8,1]}}}}
 ]}
],
"config": {
 "view": {"stroke": "#333333", "strokeWidth": 1},
 "line": {"strokeWidth": 1.8},
 "axis": {"grid": false, "domain": false, "tickSize": -5, "tickColor": "#333333", "labelPadding": 8, "labelFont": "Liberation Sans", "labelFontSize": 12.5, "labelColor": "#444444", "titleFont": "Liberation Sans", "titleFontSize": 12, "titleFontWeight": "normal", "titleColor": "#444444", "labelFlush": false, "labelOverlap": false, "minExtent": 0},
 "axisY": {"titlePadding": 6},
 "axisX": {"titlePadding": 2},
 "legend": {"orient": "top-right", "offset": 6, "strokeColor": "#222222", "fillColor": "white", "padding": 5, "labelFont": "Liberation Sans", "labelFontSize": 13, "labelColor": "#222222", "symbolType": "M-2.4,0H2.4", "symbolSize": 324, "symbolOffset": 16, "symbolStrokeWidth": 1.8, "rowPadding": 0, "labelOffset": 18},
 "title": {"orient": "bottom", "font": "Liberation Serif", "fontWeight": "bold", "fontSize": 20, "color": "#111111", "anchor": "middle"}
}
}
